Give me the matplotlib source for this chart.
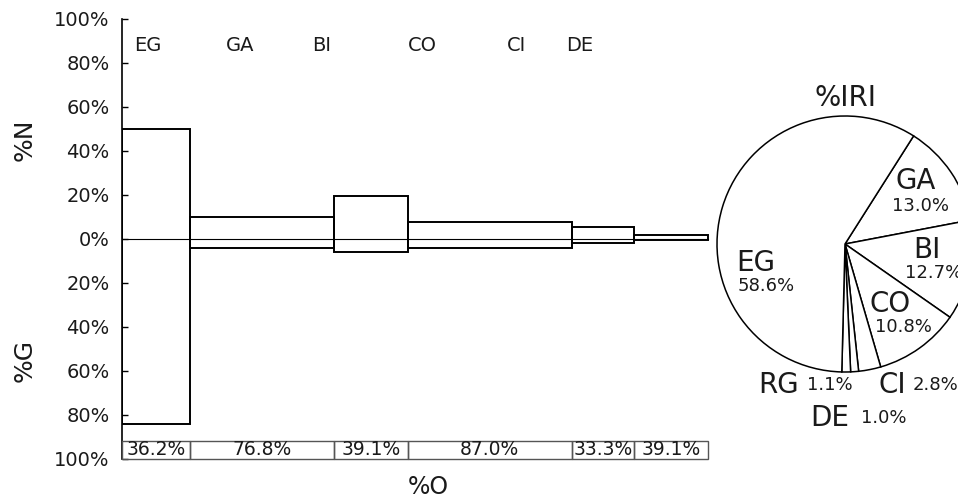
import matplotlib
matplotlib.use("Agg")
import matplotlib.pyplot as plt
import numpy as np

# ---- data ----
categories = ["EG", "GA", "BI", "CO", "CI", "DE"]
pct_O = [36.2, 76.8, 39.1, 87.0, 33.3, 39.1]      # frequency of occurrence (bar widths)
pct_N = [50.0, 10.0, 19.5, 7.5, 5.5, 1.8]         # numeric % (upwards)
pct_G = [84.0, 4.0, 6.0, 4.0, 2.0, 0.5]           # gravimetric % (downwards)
o_labels = ["36.2%", "76.8%", "39.1%", "87.0%", "33.3%", "39.1%"]

iri_labels = ["GA", "BI", "CO", "CI", "DE", "RG", "EG"]
iri_values = [13.0, 12.7, 10.8, 2.8, 1.0, 1.1, 58.6]
iri_texts = ["13.0%", "12.7%", "10.8%", "2.8%", "1.0%", "1.1%", "58.6%"]

yticks = [-100, -80, -60, -40, -20, 0, 20, 40, 60, 80, 100]

# ---- layout ----
W, H = 958, 498
TXT = "#1a1a1a"
fig = plt.figure(figsize=(W / 100, H / 100), dpi=100)
fig.patch.set_facecolor("white")

ax = fig.add_axes([122 / W, 39 / H, 598 / W, 440 / H])
ax.set_xlim(0, 598 / 1.88)
ax.set_ylim(-100, 100)
for s in ["top", "right", "bottom"]:
    ax.spines[s].set_visible(False)
ax.spines["left"].set_linewidth(1.2)
ax.set_xticks([])
ax.set_yticks(yticks)
ax.set_yticklabels([f"{abs(v)}%" for v in yticks], fontsize=14, color=TXT)
ax.tick_params(axis="y", direction="in", length=4, width=1.0, pad=9)
ax.patch.set_alpha(0)

lefts = np.concatenate([[0], np.cumsum(pct_O)[:-1]])
N = np.array(pct_N)
G = np.array(pct_G)
ax.bar(lefts, N + G, width=pct_O, bottom=-G, align="edge", fill=False,
       edgecolor="black", linewidth=1.4, zorder=3)
ax.plot([0, sum(pct_O)], [0, 0], color="black", linewidth=0.8, zorder=2)

# %O boxes at the bottom
ax.bar(lefts, 8, width=pct_O, bottom=-100, align="edge", fill=False,
       edgecolor="#555555", linewidth=1.0, clip_on=False, zorder=3)
for l, w, t in zip(lefts, pct_O, o_labels):
    ax.text(l + w / 2, -95.8, t, ha="center", va="center", fontsize=13.5,
            color=TXT, clip_on=False)

# category names along top
name_x = [13.8, 62.8, 106.4, 159.6, 210.0, 243.6]
for x, c in zip(name_x, categories):
    ax.text(x, 88, c, ha="center", va="center", fontsize=14, color=TXT)

fig.text(25 / W, 1 - 140 / H, "%N", rotation=90, ha="center", va="center",
         fontsize=18, color=TXT)
fig.text(25 / W, 1 - 360 / H, "%G", rotation=90, ha="center", va="center",
         fontsize=18, color=TXT)
fig.text(428 / W, 1 - 487 / H, "%O", ha="center", va="center",
         fontsize=17, color=TXT)

# ---- pie ----
R = 124
cx, cy = 845, 244
half = 160
pax = fig.add_axes([(cx - half) / W, (H - cy - half) / H, 2 * half / W, 2 * half / H])
pax.set_xlim(-half / R, half / R)
pax.set_ylim(-half / R, half / R)
pax.set_aspect("equal")
pax.axis("off")
pax.pie(iri_values, startangle=57.6, counterclock=False, radius=1,
        colors=["white"] * len(iri_values),
        wedgeprops=dict(edgecolor="black", linewidth=1.1))

pax.text(0, 1.137, "%IRI", ha="center", va="center", fontsize=20, color=TXT)
name_pos = {"GA": (0.55, 0.49), "BI": (0.64, -0.05), "CO": (0.35, -0.47),
            "EG": (-0.70, -0.145), "RG": (-0.52, -1.10), "CI": (0.37, -1.10),
            "DE": (-0.12, -1.36)}
val_pos = {"GA": (0.59, 0.30), "BI": (0.69, -0.23), "CO": (0.46, -0.65),
           "EG": (-0.62, -0.33), "RG": (-0.12, -1.10), "CI": (0.71, -1.10),
           "DE": (0.30, -1.36)}
for lab, txt in zip(iri_labels, iri_texts):
    x, y = name_pos[lab]
    pax.text(x, y, lab, ha="center", va="center", fontsize=20, color=TXT)
    x, y = val_pos[lab]
    pax.text(x, y, txt, ha="center", va="center", fontsize=13, color=TXT)

fig.savefig("out.png", dpi=100, facecolor="white")
